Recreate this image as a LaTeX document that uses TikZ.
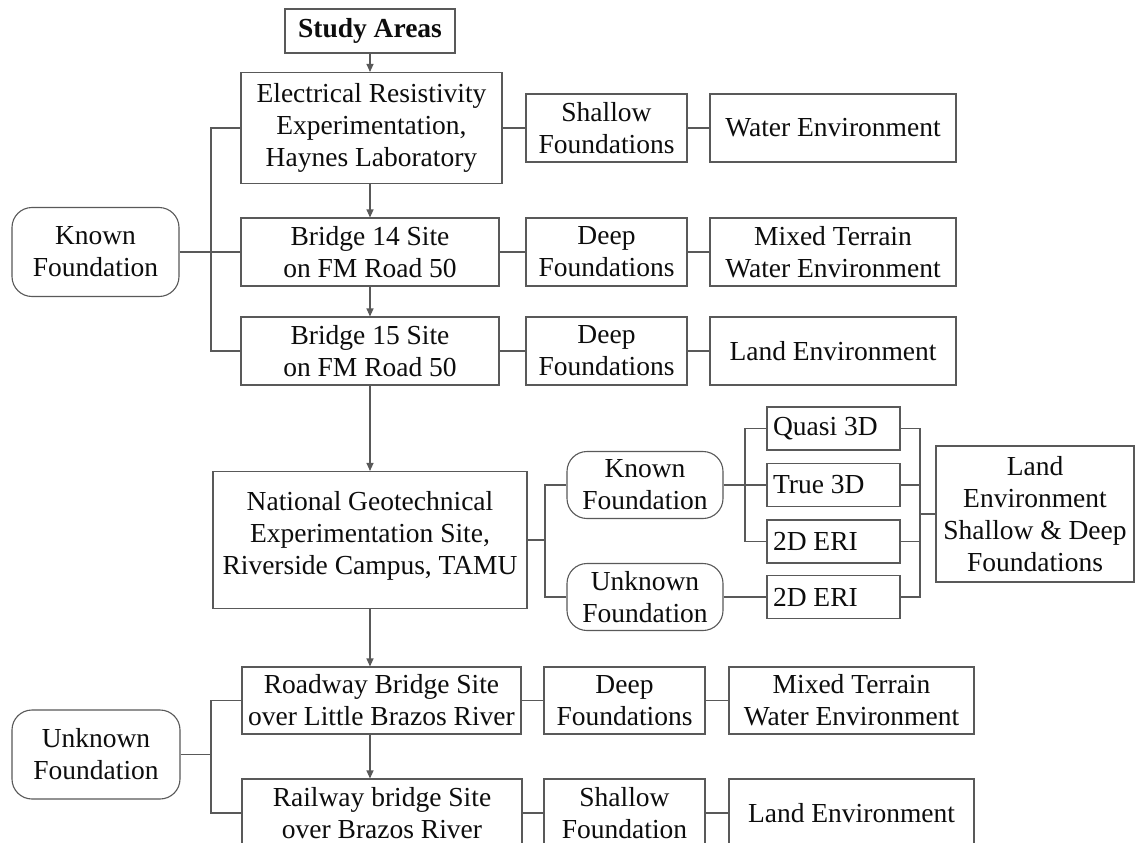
\documentclass[tikz,border=0pt]{standalone}
\usepackage{fontspec}
\setmainfont{Liberation Serif}
\usetikzlibrary{arrows.meta}
\newcommand\fz{\fontsize{27.5}{32}\selectfont}
\begin{document}
\begin{tikzpicture}[x=1pt,y=-1pt,
  every node/.style={font=\fz, text=black!95},
  box/.style={draw=black!65, line width=1.1pt, inner sep=0pt, align=center},
  rbox/.style={box, rounded corners=20pt},
  sbox/.style={box, text width=121pt, inner xsep=6pt, align=flush left, minimum height=43pt},
  conn/.style={draw=black!65, line width=1.1pt},
  arr/.style={conn, -{Triangle[length=8pt,width=7pt]}}
]
\path[use as bounding box, fill=white] (0,0) rectangle (1135,843);

% main column
\node[box, font=\fz\bfseries, minimum width=170pt, minimum height=44pt] (study) at (370,31) {Study Areas};
\node[box, minimum width=261pt, minimum height=111pt] (er) at (371.5,128) {Electrical Resistivity\\Experimentation,\\Haynes Laboratory};
\node[box, minimum width=258pt, minimum height=68pt] (b14) at (370,252) {Bridge 14 Site\\on FM Road 50};
\node[box, minimum width=258pt, minimum height=68pt] (b15) at (370,351) {Bridge 15 Site\\on FM Road 50};
\node[box, minimum width=314pt, minimum height=137pt] (nges) at (370,540) {\raisebox{4pt}[\height][\depth]{\begin{tabular}{@{}c@{}}National Geotechnical\\Experimentation Site,\\Riverside Campus, TAMU\end{tabular}}};
\node[box, minimum width=279pt, minimum height=67pt] (road) at (381.5,700.5) {Roadway Bridge Site\\over Little Brazos River};
\node[box, minimum width=280pt, minimum height=68pt] (rail) at (382,813) {Railway bridge Site\\over Brazos River};

% left groups
\node[rbox, minimum width=167pt, minimum height=89pt] (kf1) at (95.5,252) {Known\\Foundation};
\node[rbox, minimum width=168pt, minimum height=89pt] (uf1) at (96,754.5) {Unknown\\Foundation};

% rows
\node[box, minimum width=161pt, minimum height=68pt] (sf1) at (606.5,128) {Shallow\\Foundations};
\node[box, minimum width=246pt, minimum height=68pt] (we1) at (833,128) {Water Environment};
\node[box, minimum width=161pt, minimum height=68pt] (df2) at (606.5,252) {Deep\\Foundations};
\node[box, minimum width=246pt, minimum height=68pt] (mt2) at (833,252) {Mixed Terrain\\Water Environment};
\node[box, minimum width=161pt, minimum height=68pt] (df3) at (606.5,351) {Deep\\Foundations};
\node[box, minimum width=246pt, minimum height=68pt] (le3) at (833,351) {Land Environment};
\node[box, minimum width=161pt, minimum height=67pt] (df4) at (624.5,700.5) {Deep\\Foundations};
\node[box, minimum width=245pt, minimum height=67pt] (mt4) at (851.5,700.5) {Mixed Terrain\\Water Environment};
\node[box, minimum width=161pt, minimum height=68pt] (sf5) at (624.5,813) {Shallow\\Foundation};
\node[box, minimum width=245pt, minimum height=68pt] (le5) at (851.5,813) {Land Environment};

% NGES branch
\node[rbox, minimum width=156pt, minimum height=67pt] (kf2) at (645,485) {Known\\Foundation};
\node[rbox, minimum width=156pt, minimum height=67pt] (uf2) at (645,597) {Unknown\\Foundation};
\node[sbox] (q3d) at (833.5,428.5) {Quasi 3D};
\node[sbox] (t3d) at (833.5,485) {True 3D};
\node[sbox] (eri1) at (833.5,541.5) {2D ERI};
\node[sbox] (eri2) at (833.5,597) {2D ERI};
\node[box, minimum width=198pt, minimum height=136pt] (lesd) at (1035,514) {Land\\Environment\\Shallow \& Deep\\Foundations};

% arrows down the main column
\draw[arr] (study.south) -- (study.south |- er.north);
\draw[arr] (b14.north |- er.south) -- (b14.north);
\draw[arr] (b14.south) -- (b15.north);
\draw[arr] (b15.south) -- (nges.north);
\draw[arr] (nges.south) -- (nges.south |- road.north);
\draw[arr] (nges.south |- road.south) -- (nges.south |- rail.north);

% left buses
\coordinate (j1) at (211,252);
\draw[conn] (er.west) -| (j1) |- (b15.west);
\draw[conn] (kf1.east) -- (b14.west);
\coordinate (j2) at (211,754.5);
\draw[conn] (road.west) -| (j2) |- (rail.west);
\draw[conn] (uf1.east) -- (j2);

% row connectors
\draw[conn] (er.east) -- (sf1.west);
\draw[conn] (sf1.east) -- (we1.west);
\draw[conn] (b14.east) -- (df2.west);
\draw[conn] (df2.east) -- (mt2.west);
\draw[conn] (b15.east) -- (df3.west);
\draw[conn] (df3.east) -- (le3.west);
\draw[conn] (road.east) -- (df4.west);
\draw[conn] (df4.east) -- (mt4.west);
\draw[conn] (rail.east) -- (sf5.west);
\draw[conn] (sf5.east) -- (le5.west);

% NGES branch connectors
\coordinate (j3) at (545,540);
\draw[conn] (nges.east) -- (j3);
\draw[conn] (kf2.west) -| (j3) |- (uf2.west);
\coordinate (j4) at (745,485);
\draw[conn] (q3d.west) -| (j4) |- (eri1.west);
\draw[conn] (kf2.east) -- (t3d.west);
\draw[conn] (uf2.east) -- (eri2.west);
\coordinate (j5) at (920,514);
\draw[conn] (q3d.east) -| (j5) |- (eri2.east);
\draw[conn] (t3d.east) -- (t3d.east -| j5);
\draw[conn] (eri1.east) -- (eri1.east -| j5);
\draw[conn] (j5) -- (lesd.west);
\end{tikzpicture}
\end{document}
